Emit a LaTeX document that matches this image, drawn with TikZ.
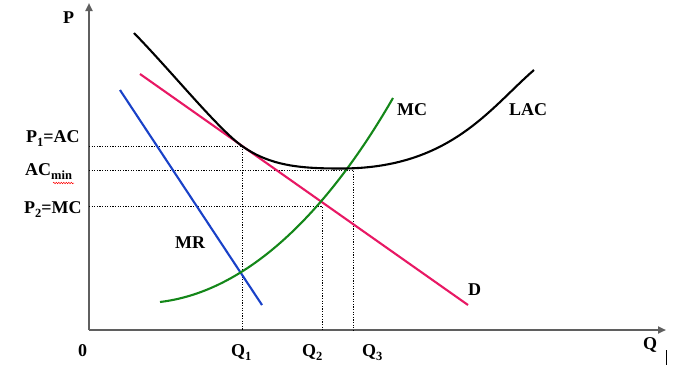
\documentclass[tikz,border=0pt]{standalone}
\usepackage{fontspec}
\setmainfont{Liberation Serif}
\usetikzlibrary{arrows.meta,decorations.pathmorphing}
\definecolor{axisgray}{RGB}{95,95,95}
\definecolor{dpink}{RGB}{232,24,100}
\definecolor{mrblue}{RGB}{25,65,200}
\definecolor{mcgreen}{RGB}{20,135,25}
\newcommand{\lowsub}[1]{\raisebox{-4pt}{\fontsize{12.5}{13}\selectfont #1}}
\tikzset{
  lbl/.style={inner sep=0pt,anchor=base west,font=\fontsize{18}{20}\selectfont\bfseries},
  axis/.style={draw=axisgray,line width=2pt,-{Triangle[length=8pt,width=7pt]}},
  guide/.style={draw=black,line width=0.7pt,dash pattern=on 1.2pt off 1.4pt},
  curve/.style={line width=2.1pt}
}
\begin{document}
\begin{tikzpicture}[x=1pt,y=-1pt]
\useasboundingbox (0,0) rectangle (688,391);
% axes
\coordinate (O) at (89,330);
\coordinate (Ytop) at (89,3);
\coordinate (Xend) at (666,330);
\draw[axis] (O) -- (Ytop);
\draw[axis] (O) -- (Xend);
% guide lines
\coordinate (T1) at (242,146);
\coordinate (T1a) at (89,146);
\coordinate (T1b) at (242,330);
\coordinate (M1) at (89,170);
\coordinate (M2) at (353,170);
\coordinate (M3) at (353,330);
\coordinate (E1) at (89,206);
\coordinate (E2) at (322,206);
\coordinate (E3) at (322,330);
\draw[guide] (T1a) -- (T1) -- (T1b);
\draw[guide] (M1) -- (M2) -- (M3);
\draw[guide] (E1) -- (E2) -- (E3);
% D
\coordinate (D1) at (140,74);
\coordinate (D2) at (468,305);
\draw[curve,dpink] (D1) -- (D2);
% MR
\coordinate (R1) at (120,90);
\coordinate (R2) at (262,305);
\draw[curve,mrblue] (R1) -- (R2);
% MC
\coordinate (C1) at (160,302);
\coordinate (C2) at (393,98);
\draw[curve,mcgreen] (C1) .. controls (260,290) and (340,190) .. (C2);
% LAC
\coordinate (L1) at (134,33);
\coordinate (Lmin) at (340,168.5);
\coordinate (L2) at (534,70);
\draw[curve,black] (L1) .. controls (172,72) and (218,129) .. (T1)
   .. controls (270,165.8) and (300,168.5) .. (Lmin)
   .. controls (450,169) and (490,108) .. (L2);
% labels
\node[lbl] (lP) at (63,23) {P};
\node[lbl] (lP1) at (26,142) {P\lowsub{1}=AC};
\node[lbl] (lAC) at (25,175) {AC\lowsub{min}};
\node[lbl] (lP2) at (24,213) {P\lowsub{2}=MC};
\node[lbl] (l0) at (78,356) {0};
\node[lbl] (lQ1) at (231,356) {Q\lowsub{1}};
\node[lbl] (lQ2) at (302,356) {Q\lowsub{2}};
\node[lbl] (lQ3) at (362,356) {Q\lowsub{3}};
\node[lbl] (lQ) at (643,349) {Q};
\node[lbl] (lMC) at (397,115) {MC};
\node[lbl] (lLAC) at (509,115) {LAC};
\node[lbl] (lMR) at (175,248) {MR};
\node[lbl] (lD) at (468,295) {D};
% spell-check underline
\coordinate (W1) at (53,183);
\coordinate (W2) at (74,183);
\draw[red,line width=0.5pt,decorate,decoration={snake,amplitude=0.7pt,segment length=2.5pt}] (W1) -- (W2);
% stray mark
\coordinate (S1) at (666,350);
\coordinate (S2) at (666,365);
\draw[black,line width=0.7pt] (S1) -- (S2);
\end{tikzpicture}
\end{document}
